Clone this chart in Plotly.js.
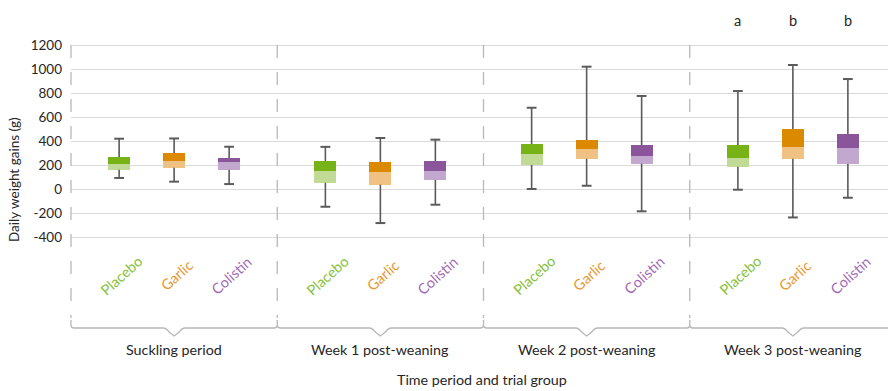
<!DOCTYPE html>
<html>
<head>
<meta charset="utf-8">
<script src="https://cdn.plot.ly/plotly-3.0.1.min.js"></script>
<style>html,body{margin:0;padding:0;background:#fff;}#chart{width:888px;height:391px;}</style>
</head>
<body>
<div id="chart"></div>
<script>
// ---------------- data ----------------
var periods = ['Suckling period', 'Week 1 post-weaning', 'Week 2 post-weaning', 'Week 3 post-weaning'];
var groups = ['Placebo', 'Garlic', 'Colistin'];

var placeboMin    = [98, -142, 6, 0];
var placeboQ1     = [167, 58, 207, 192];
var placeboMedian = [214, 156, 297, 264];
var placeboQ3     = [272, 239, 381, 372];
var placeboMax    = [425, 357, 683, 822];

var garlicMin    = [67, -278, 33, -231];
var garlicQ1     = [183, 42, 258, 258];
var garlicMedian = [240, 147, 339, 356];
var garlicQ3     = [306, 231, 414, 506];
var garlicMax    = [427, 431, 1025, 1039];

var colistinMin    = [47, -125, -180, -67];
var colistinQ1     = [167, 82, 217, 217];
var colistinMedian = [231, 156, 282, 347];
var colistinQ3     = [264, 239, 372, 464];
var colistinMax    = [358, 417, 781, 922];

var week3Letters = ['a', 'b', 'b'];
var yTickVals = [-400, -200, 0, 200, 400, 600, 800, 1000, 1200];

// ---------------- styling ----------------
var darkColors  = ['#77B216', '#DB8A00', '#8A559A'];
var lightColors = ['#C1DA95', '#EFC283', '#C2A8CF'];
var labelColors = ['#86C13A', '#E8972F', '#9F6AB5'];
var FONT = 'Lato, "Open Sans", sans-serif';
var TEXT = '#262626';

var W = 888, H = 391;
var mL = 71, mR = 0, mT = 44, mB = 151;
var plotW = W - mL - mR, plotH = H - mT - mB;
var groupPx = 206.25;
var xMax = plotW / groupPx;
var slot = 55 / groupPx;      // spacing of boxes within a period
var boxW = 22 / groupPx;

function px2py(py) { return (H - mB - py) / plotH; }   // pixel y -> paper y
function px2pxp(px) { return (px - mL) / plotW; }       // pixel x -> paper x

var series = [
  {min: placeboMin, q1: placeboQ1, med: placeboMedian, q3: placeboQ3, max: placeboMax},
  {min: garlicMin, q1: garlicQ1, med: garlicMedian, q3: garlicQ3, max: garlicMax},
  {min: colistinMin, q1: colistinQ1, med: colistinMedian, q3: colistinQ3, max: colistinMax}
];

function xPos(g, i) { return g + 0.5 + (i - 1) * slot; }

var traces = [];
series.forEach(function (s, i) {
  var xs = periods.map(function (p, g) { return xPos(g, i); });
  traces.push({
    type: 'bar', x: xs, base: s.q1,
    y: s.q1.map(function (v, k) { return s.med[k] - v; }),
    width: boxW, marker: {color: lightColors[i], line: {width: 0}},
    hoverinfo: 'skip', showlegend: false
  });
  traces.push({
    type: 'bar', x: xs, base: s.med,
    y: s.med.map(function (v, k) { return s.q3[k] - v; }),
    width: boxW, marker: {color: darkColors[i], line: {width: 0}},
    hoverinfo: 'skip', showlegend: false
  });
});
// whiskers (drawn from box edges to extremes)
series.forEach(function (s, i) {
  var wx = [], wy = [], cx = [], cy = [];
  periods.forEach(function (p, g) {
    var x = xPos(g, i);
    wx.push(x, x, null, x, x, null);
    wy.push(s.q3[g], s.max[g], null, s.q1[g], s.min[g], null);
    cx.push(x, x);
    cy.push(s.max[g], s.min[g]);
  });
  traces.push({type: 'scatter', mode: 'lines', x: wx, y: wy,
    line: {color: '#5a5a5a', width: 1.6}, hoverinfo: 'skip', showlegend: false, cliponaxis: false});
  traces.push({type: 'scatter', mode: 'markers', x: cx, y: cy,
    marker: {symbol: 'line-ew', size: 7, line: {color: '#5a5a5a', width: 2}},
    hoverinfo: 'skip', showlegend: false, cliponaxis: false});
});

// ---------------- annotations ----------------
var annotations = [];
periods.forEach(function (p, g) {
  groups.forEach(function (name, i) {
    annotations.push({
      xref: 'x', yref: 'paper', x: xPos(g, i), xshift: 2, y: px2py(275),
      text: name, showarrow: false, textangle: -42,
      xanchor: 'center', yanchor: 'middle',
      font: {family: FONT, size: 14.5, color: labelColors[i]}
    });
  });
  annotations.push({
    xref: 'x', yref: 'paper', x: g + 0.5, y: px2py(349),
    text: p, showarrow: false, xanchor: 'center', yanchor: 'middle',
    font: {family: FONT, size: 14.3, color: TEXT}
  });
});
week3Letters.forEach(function (l, i) {
  annotations.push({
    xref: 'x', yref: 'paper', x: xPos(3, i), y: px2py(20),
    text: l, showarrow: false, xanchor: 'center', yanchor: 'middle',
    font: {family: FONT, size: 14.5, color: TEXT}
  });
});
annotations.push({
  xref: 'paper', yref: 'paper', x: px2pxp(482), y: px2py(379),
  text: 'Time period and trial group', showarrow: false, xanchor: 'center', yanchor: 'middle',
  font: {family: FONT, size: 14.3, color: TEXT}
});
annotations.push({
  xref: 'paper', yref: 'paper', x: px2pxp(14), y: px2py(180),
  text: 'Daily weight gains (g)', showarrow: false, textangle: -90, xanchor: 'center', yanchor: 'middle',
  font: {family: FONT, size: 13.5, color: TEXT}
});

// ---------------- bracket shapes ----------------
var shapes = [];
var sepColor = '#b8b8b8';
var yB = 328, yNotch = 336, yDashEnd = 318;
for (var g = 0; g < periods.length; g++) {
  var xp = mL + g * groupPx;
  shapes.push({type: 'line', xref: 'paper', yref: 'paper',
    x0: px2pxp(xp), x1: px2pxp(xp), y0: px2py(mT + 1), y1: px2py(yDashEnd),
    line: {color: sepColor, width: 1.3, dash: '13px,14px'}});
}
function P(x, y) { return px2pxp(x) + ',' + px2py(y); }
var d = '';
for (var g = 0; g < periods.length; g++) {
  var x0 = mL + g * groupPx;
  var x1 = Math.min(mL + (g + 1) * groupPx, W);
  var c = mL + (g + 0.5) * groupPx;
  d += 'M' + P(x0, yDashEnd + 2) + ' L' + P(x0, yB - 3) + ' Q' + P(x0, yB) + ' ' + P(x0 + 3, yB);
  d += ' L' + P(c - 11, yB) + ' Q' + P(c - 8, yB) + ' ' + P(c - 5, yB + 4) + ' L' + P(c, yNotch) +
       ' L' + P(c + 5, yB + 4) + ' Q' + P(c + 8, yB) + ' ' + P(c + 11, yB);
  if (x1 < W) {
    d += ' L' + P(x1 - 3, yB) + ' Q' + P(x1, yB) + ' ' + P(x1, yB - 3) + ' ';
  } else {
    d += ' L' + P(x1, yB) + ' ';
  }
}
shapes.push({type: 'path', xref: 'paper', yref: 'paper', path: d,
  line: {color: sepColor, width: 1.3}});

var layout = {
  width: W, height: H,
  margin: {l: mL, r: mR, t: mT, b: mB, pad: 0},
  paper_bgcolor: '#ffffff', plot_bgcolor: '#ffffff',
  barmode: 'overlay', bargap: 0,
  showlegend: false,
  font: {family: FONT, color: TEXT},
  xaxis: {range: [0, xMax], showgrid: false, zeroline: false, showticklabels: false,
    showline: false, ticks: '', fixedrange: true},
  yaxis: {range: [-419, 1214], tickvals: yTickVals, ticktext: yTickVals.map(String),
    showgrid: true, gridcolor: '#dadada', gridwidth: 1.5, zeroline: false, showline: false,
    ticks: '', ticklabelstandoff: 8, tickfont: {family: FONT, size: 13.5, color: TEXT}, fixedrange: true},
  shapes: shapes,
  annotations: annotations
};

Plotly.newPlot('chart', traces, layout, {displayModeBar: false, staticPlot: true});
</script>
</body>
</html>
